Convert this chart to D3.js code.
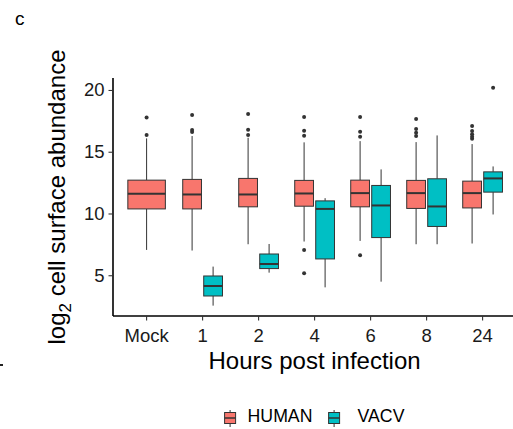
<!DOCTYPE html>
<html>
<head>
<meta charset="utf-8">
<script src="https://cdn.jsdelivr.net/npm/d3@7"></script>
<style>
  html, body { margin: 0; padding: 0; background: #fff; }
  svg { display: block; font-family: "Liberation Sans", Arial, Helvetica, sans-serif; }
</style>
</head>
<body>
<svg id="chart" width="513" height="429"></svg>
<script>
// ---- data ----
const categories = ["Mock", "1", "2", "4", "6", "8", "24"];
const groups = ["HUMAN", "VACV"];
const groupColors = ["#F8766D", "#00BFC4"];
const yTicks = [5, 10, 15, 20];

const humanLow  = [7.05, 7.00, 7.51, 7.73, 7.78, 7.51, 7.57];
const humanQ1   = [10.37, 10.37, 10.54, 10.59, 10.54, 10.41, 10.45];
const humanMed  = [11.59, 11.54, 11.54, 11.62, 11.65, 11.65, 11.65];
const humanQ3   = [12.70, 12.76, 12.84, 12.68, 12.70, 12.68, 12.62];
const humanHigh = [16.08, 16.27, 16.13, 15.76, 15.86, 15.78, 15.62];
const humanOutliers = [
  [16.35, 17.78],
  [16.59, 16.76, 17.97],
  [16.35, 16.78, 18.05],
  [5.16, 7.05, 16.29, 16.70, 17.81],
  [6.62, 16.21, 16.62, 17.81],
  [16.27, 16.54, 16.84, 17.65],
  [16.05, 16.21, 16.41, 16.67, 17.08]
];

const vacvLow  = [null, 2.54, 5.21, 4.02, 4.48, 7.51, 9.92];
const vacvQ1   = [null, 3.32, 5.54, 6.32, 8.05, 8.95, 11.73];
const vacvMed  = [null, 4.13, 5.91, 10.37, 10.65, 10.57, 12.84];
const vacvQ3   = [null, 4.94, 6.72, 11.02, 12.27, 12.81, 13.37];
const vacvHigh = [null, 5.70, 7.53, 11.24, 13.57, 16.32, 13.81];
const vacvOutliers = [[], [], [], [], [], [], [20.19]];

// ---- build records ----
const boxes = [];
categories.forEach((c, i) => {
  const hasV = vacvMed[i] !== null;
  boxes.push({cat: c, group: "HUMAN", single: !hasV, low: humanLow[i], q1: humanQ1[i], med: humanMed[i], q3: humanQ3[i], high: humanHigh[i], out: humanOutliers[i]});
  if (hasV) boxes.push({cat: c, group: "VACV", single: false, low: vacvLow[i], q1: vacvQ1[i], med: vacvMed[i], q3: vacvQ3[i], high: vacvHigh[i], out: vacvOutliers[i]});
});

// ---- layout ----
const pLeft = 113, pTop = 78, pBottom = 316;
const svg = d3.select("#chart");

const x = d3.scaleBand().domain(categories).range([pLeft, pLeft + 7.2 * 56]).paddingInner(0).paddingOuter(0.1);
const step = x.bandwidth();
const sub = d3.scaleBand().domain(groups).range([-0.375 * step, 0.375 * step]);
const color = d3.scaleOrdinal().domain(groups).range(groupColors);
const y = d3.scaleLinear().domain([1.7, 20.97]).range([pBottom, pTop]);

const boxW = d => d.single ? 0.67 * step : 0.335 * step;
const cx = d => x(d.cat) + step / 2 + (d.single ? 0 : sub(d.group) + sub.bandwidth() / 2);

// ---- boxes ----
const g = svg.append("g");
const bx = g.selectAll("g.box").data(boxes).join("g").attr("class", "box");
bx.append("line")
  .attr("x1", cx).attr("x2", cx)
  .attr("y1", d => y(d.high)).attr("y2", d => y(d.q3))
  .attr("stroke", "#333").attr("stroke-width", 1);
bx.append("line")
  .attr("x1", cx).attr("x2", cx)
  .attr("y1", d => y(d.q1)).attr("y2", d => y(d.low))
  .attr("stroke", "#333").attr("stroke-width", 1);
bx.append("rect")
  .attr("x", d => cx(d) - boxW(d) / 2).attr("width", boxW)
  .attr("y", d => y(d.q3)).attr("height", d => y(d.q1) - y(d.q3))
  .attr("fill", d => color(d.group)).attr("stroke", "#333").attr("stroke-width", 1);
bx.append("line")
  .attr("x1", d => cx(d) - boxW(d) / 2).attr("x2", d => cx(d) + boxW(d) / 2)
  .attr("y1", d => y(d.med)).attr("y2", d => y(d.med))
  .attr("stroke", "#333").attr("stroke-width", 2);
bx.selectAll("circle").data(d => d.out.map(v => ({v, d}))).join("circle")
  .attr("cx", o => cx(o.d)).attr("cy", o => y(o.v)).attr("r", 2)
  .attr("fill", "#333");

// ---- axes ----
const yAxis = svg.append("g").attr("transform", `translate(${pLeft},0)`)
  .call(d3.axisLeft(y).tickValues(yTicks).tickSize(4.5).tickPadding(4));
const xAxis = svg.append("g").attr("transform", `translate(0,${pBottom})`)
  .call(d3.axisBottom(x).tickSize(4.5).tickPadding(4));
[yAxis, xAxis].forEach(a => {
  a.select(".domain").attr("stroke", "#000").attr("stroke-width", 1.6);
  a.selectAll(".tick line").attr("stroke", "#333").attr("stroke-width", 1.1);
  a.selectAll(".tick text").attr("font-size", 18.5).attr("fill", "#1a1a1a")
    .attr("font-family", "'Liberation Sans', Arial, sans-serif");
});
yAxis.select(".domain").attr("d", `M0,${pBottom}V${pTop}`);
xAxis.select(".domain").attr("d", `M${pLeft},0H${pLeft + 7.2 * 56}`);
xAxis.selectAll(".tick text").attr("dy", null).attr("y", 25.5);

// ---- titles ----
const xc = (x.range()[0] + x.range()[1]) / 2;
svg.append("text").attr("x", xc).attr("y", 369).attr("text-anchor", "middle")
  .attr("font-size", 24).attr("fill", "#000").text("Hours post infection");

const yt = svg.append("text").attr("transform", `translate(65,${(pTop + pBottom) / 2}) rotate(-90)`)
  .attr("text-anchor", "middle").attr("font-size", 24).attr("fill", "#000");
yt.append("tspan").text("log");
yt.append("tspan").attr("font-size", 17).attr("dy", 6).text("2");
yt.append("tspan").attr("dy", -6).text(" cell surface abundance");

svg.append("text").attr("x", 15).attr("y", 25).attr("font-size", 19).attr("fill", "#000").text("c");
svg.append("rect").attr("x", 0).attr("y", 364).attr("width", 3).attr("height", 2).attr("fill", "#222");

// ---- legend ----
const legendItems = [
  {g: "HUMAN", kx: xc - 90, tx: xc - 67},
  {g: "VACV", kx: xc + 14, tx: xc + 43}
];
const lg = svg.append("g");
legendItems.forEach(it => {
  const kcx = it.kx + 5.5;
  lg.append("line").attr("x1", kcx).attr("x2", kcx).attr("y1", 410).attr("y2", 427).attr("stroke", "#333");
  lg.append("rect").attr("x", it.kx).attr("y", 412.5).attr("width", 11).attr("height", 11)
    .attr("fill", color(it.g)).attr("stroke", "#333").attr("stroke-width", 1);
  lg.append("line").attr("x1", it.kx).attr("x2", it.kx + 11).attr("y1", 418).attr("y2", 418)
    .attr("stroke", "#333").attr("stroke-width", 1.5);
  lg.append("text").attr("x", it.tx).attr("y", 421.7).attr("font-size", 17.7).attr("fill", "#000").text(it.g);
});
</script>
</body>
</html>
